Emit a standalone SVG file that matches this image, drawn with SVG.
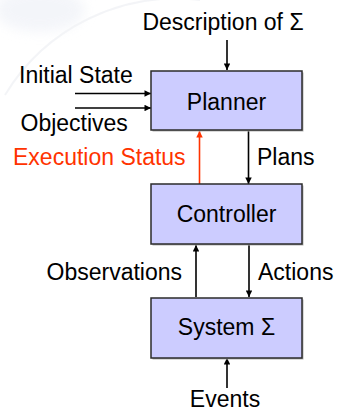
<svg xmlns="http://www.w3.org/2000/svg" width="338" height="412" viewBox="0 0 338 412">
  <defs>
    <style>
      .lbl { font-family: "Liberation Sans", Arial, sans-serif; font-size: 23px; fill: #000; }
      .red { fill: #FF3300; }
      .box { fill: #CCCCFF; stroke: #2b2b2b; stroke-width: 1.5; }
      .shadow { fill: #b4b4b4; }
      .wire { stroke: #000; stroke-width: 1.6; fill: none; }
      .wire-red { stroke: #FF3300; stroke-width: 1.6; fill: none; }
      .seal { fill: none; stroke: #eceef2; stroke-width: 2; }
    </style>
    <marker id="ah" viewBox="0 0 10 10" refX="10" refY="5" markerWidth="7" markerHeight="6.5" orient="auto" markerUnits="userSpaceOnUse">
      <path d="M0,0 L10,5 L0,10 z" fill="#000"/>
    </marker>
    <marker id="ah-red" viewBox="0 0 10 10" refX="10" refY="5" markerWidth="7" markerHeight="6.5" orient="auto" markerUnits="userSpaceOnUse">
      <path d="M0,0 L10,5 L0,10 z" fill="#FF3300"/>
    </marker>
    <filter id="soft" x="-50%" y="-50%" width="200%" height="200%">
      <feGaussianBlur stdDeviation="6"/>
    </filter>
  </defs>

  <rect width="338" height="412" fill="#fff"/>

  <!-- faint background crest -->
  <g opacity="0.6">
    <ellipse cx="40" cy="10" rx="45" ry="22" fill="#eceff6" filter="url(#soft)"/>
    <path class="seal" d="M5,95 A200,200 0 0 1 200,0"/>
  </g>

  <!-- connectors -->
  <g id="connectors">
    <line class="wire" x1="227" y1="40" x2="227" y2="70" marker-end="url(#ah)"/>
    <line class="wire" x1="75" y1="93.5" x2="151" y2="93.5" marker-end="url(#ah)"/>
    <line class="wire" x1="75" y1="108" x2="151" y2="108" marker-end="url(#ah)"/>
    <line class="wire-red" x1="199.5" y1="184" x2="199.5" y2="131" marker-end="url(#ah-red)"/>
    <line class="wire" x1="248.5" y1="131" x2="248.5" y2="184" marker-end="url(#ah)"/>
    <line class="wire" x1="196" y1="297" x2="196" y2="245" marker-end="url(#ah)"/>
    <line class="wire" x1="249" y1="245" x2="249" y2="297" marker-end="url(#ah)"/>
    <line class="wire" x1="227" y1="388" x2="227" y2="358" marker-end="url(#ah)"/>
  </g>

  <!-- edge labels -->
  <g id="labels">
    <text class="lbl" x="223" y="30" text-anchor="middle">Description of Σ</text>
    <text class="lbl" x="19" y="83">Initial State</text>
    <text class="lbl" x="20.5" y="131">Objectives</text>
    <text class="lbl red" x="13" y="165">Execution Status</text>
    <text class="lbl" x="257" y="165">Plans</text>
    <text class="lbl" x="46.5" y="280">Observations</text>
    <text class="lbl" x="258" y="280">Actions</text>
    <text class="lbl" x="225" y="407" text-anchor="middle">Events</text>
  </g>

  <g id="planner">
    <rect class="shadow" x="152.5" y="72.5" width="151" height="59"/>
    <rect class="box" x="151" y="71" width="151" height="59"/>
    <text class="lbl" x="226.5" y="110" text-anchor="middle">Planner</text>
  </g>

  <g id="controller">
    <rect class="shadow" x="152.5" y="185.5" width="151" height="60"/>
    <rect class="box" x="151" y="184" width="151" height="60"/>
    <text class="lbl" x="226.5" y="222" text-anchor="middle">Controller</text>
  </g>

  <g id="system">
    <rect class="shadow" x="152.5" y="299.5" width="151" height="60"/>
    <rect class="box" x="151" y="298" width="151" height="60"/>
    <text class="lbl" x="226.5" y="335" text-anchor="middle">System Σ</text>
  </g>
</svg>
